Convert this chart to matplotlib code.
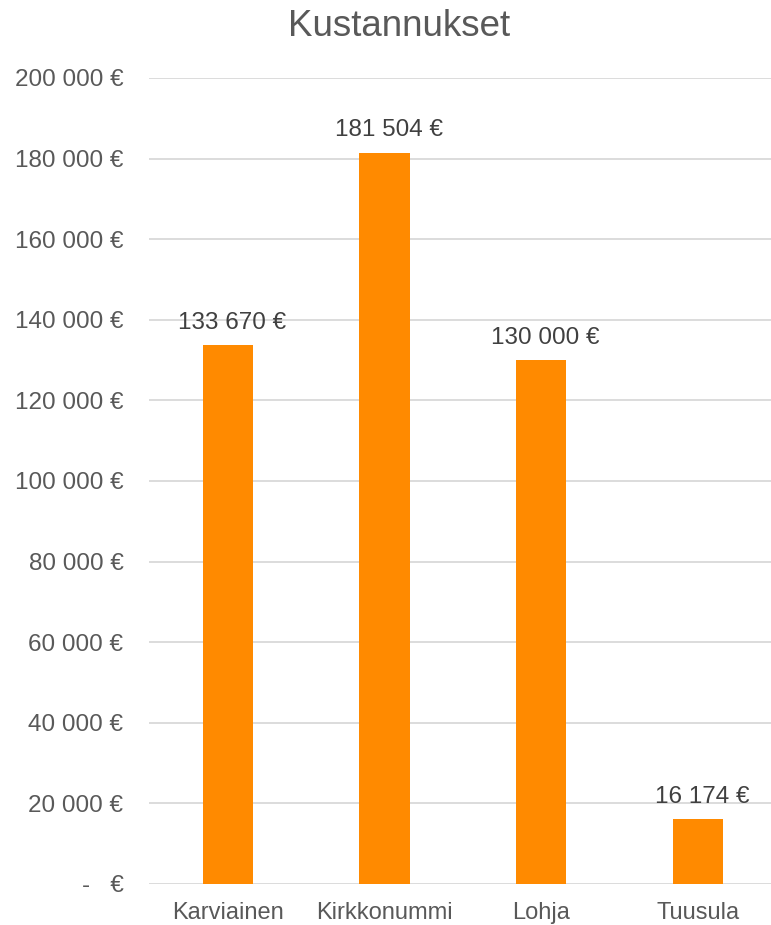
import matplotlib.pyplot as plt
from matplotlib.ticker import FuncFormatter

categories = ['Karviainen', 'Kirkkonummi', 'Lohja', 'Tuusula']
costs = [133670, 181504, 130000, 16174]
yticks = [0, 20000, 40000, 60000, 80000, 100000, 120000, 140000, 160000, 180000, 200000]


def euro(v, pos=None):
    if v == 0:
        return '-   €'
    return f'{int(v):,} €'.replace(',', ' ')


plt.rcParams['font.family'] = ['Liberation Sans', 'DejaVu Sans']

fig = plt.figure(figsize=(7.71, 9.25), dpi=100)
ax = fig.add_axes([148.5 / 771, 41 / 925, 1 - 148.5 / 771, 806 / 925])

x = range(len(categories))
ax.bar(x, costs, width=0.32, color='#FF8A00', zorder=3)

for i, v in enumerate(costs):
    ax.annotate(euro(v), (i, v), xytext=(3, 8), textcoords='offset points',
                ha='center', va='bottom', fontsize=17.5, color='#404040')

ax.set_xlim(-0.505, 3.465)
ax.set_ylim(0, 200000)
ax.set_yticks(yticks)
ax.yaxis.set_major_formatter(FuncFormatter(euro))
ax.set_xticks(list(x))
ax.set_xticklabels(categories)

ax.grid(axis='y', color='#D9D9D9', linewidth=1.3, zorder=0)
for s in ax.spines.values():
    s.set_visible(False)
ax.tick_params(axis='both', length=0, labelsize=17, labelcolor='#595959')
ax.tick_params(axis='y', pad=18)
ax.tick_params(axis='x', pad=13)
for lbl in ax.get_yticklabels():
    lbl.set_fontsize(17.5)

fig.text(399 / 771, 1 - 27 / 925, 'Kustannukset', ha='center', va='center',
         fontsize=26.5, color='#595959')

fig.savefig('out.png', dpi=100)
